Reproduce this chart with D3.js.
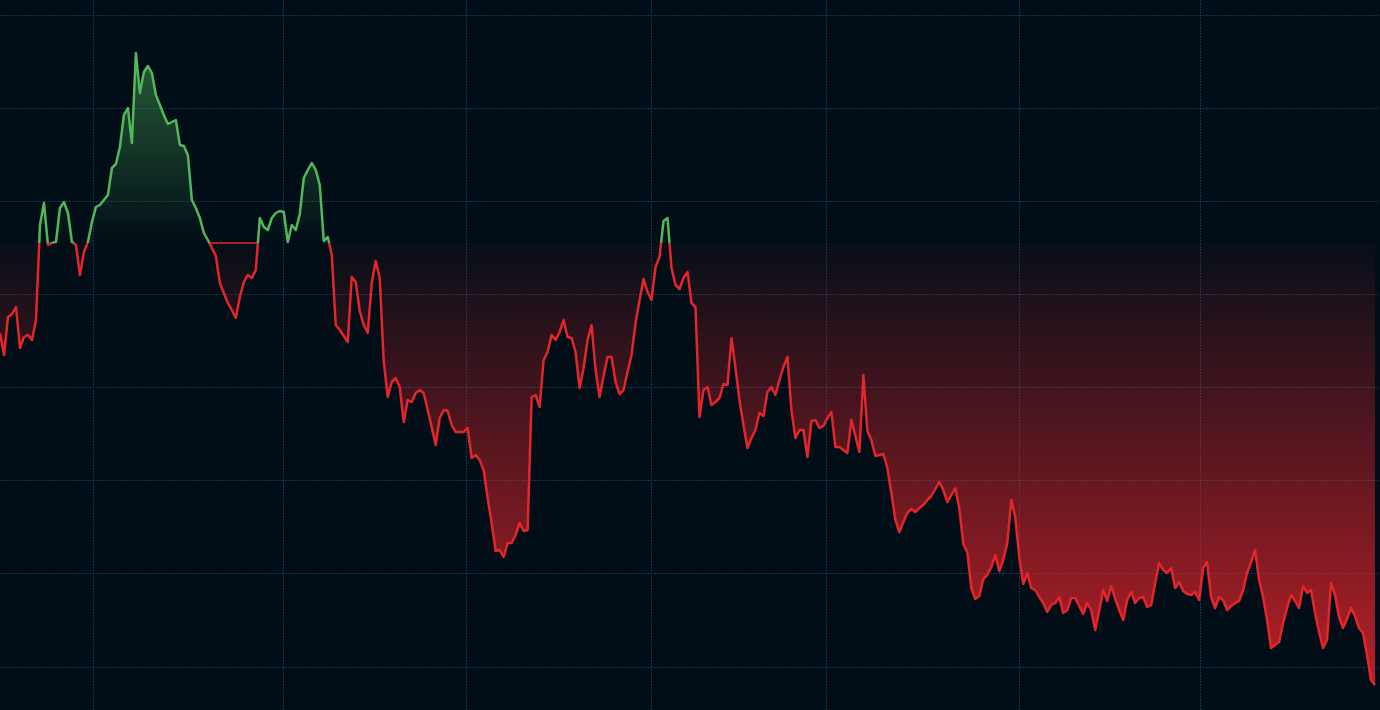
<!doctype html>
<html>
<head>
<meta charset="utf-8">
<script src="https://cdn.jsdelivr.net/npm/d3@7"></script>
<style>
  html, body { margin: 0; padding: 0; background: #020e17; overflow: hidden; }
  .chart { display: block; }
</style>
</head>
<body>
<svg class="chart"></svg>
<script>

  // price series, one value per bar
  const prices = [
    367, 345, 383, 386, 393, 352, 363, 365, 360, 380,
    475, 497, 455, 457, 458, 492, 498, 487, 458, 455,
    425, 448, 458, 478, 493, 495, 500, 505, 532, 536,
    553, 585, 592, 557, 647, 607, 628, 634, 627, 605,
    595, 585, 576, 578, 580, 555, 554, 545, 500, 492,
    482, 467, 460, 452, 444, 417, 407, 397,
    390, 382, 403, 418, 425, 422, 430, 482, 473, 470,
    482, 487, 489, 488, 458, 475, 470, 486, 522, 530,
    537, 530, 515, 459, 463, 445, 375, 370, 364, 358,
    423, 418, 389, 375, 367, 417, 439, 422, 339, 303,
    318, 322, 313, 278, 300, 298, 307, 310, 307, 290,
    273, 255, 282, 290, 289, 275, 268,
    268, 268, 272, 242, 245, 240, 230, 202, 177, 149,
    150, 143, 157, 157, 165, 177, 169, 170, 303, 305,
    293, 340, 348, 365, 360, 368, 380, 363, 362, 348,
    312, 332, 360, 375, 330, 303, 324, 343, 343, 318,
    306, 310, 328, 345, 377, 400, 421, 408, 400, 433,
    443, 479, 482, 432, 415, 411, 422, 428, 397, 393,
    283,
    310, 313, 295, 298, 302, 316, 315, 362, 332, 300,
    275, 252, 262, 270, 287, 284, 308, 313, 305, 320,
    333, 343, 290, 262, 270, 270, 243, 279, 280, 272,
    274, 282, 288, 253, 253, 250, 247, 280, 264, 248,
    325, 269, 260, 244, 245, 246, 232, 207, 180, 168,
    178, 187, 191, 188, 192, 195, 200,
    204, 211, 218, 210, 198, 205, 212, 192, 156, 148,
    112, 101, 104, 121, 125, 133, 145, 129, 140, 157,
    200, 183, 143, 116, 127, 112, 110, 103, 97, 88,
    95, 97, 103, 87, 90, 102, 102, 94, 86, 97,
    90, 70, 89, 110, 99, 114, 101, 90, 80, 100,
    108, 97, 102, 103, 93,
    95, 117, 137, 130, 127, 132, 112, 118, 109, 106,
    105, 108, 100, 132, 138, 103, 92, 103, 100, 90,
    94, 97, 99, 110, 127, 138, 150, 120, 103, 80,
    52, 55, 58, 77, 92, 105, 99, 92, 114, 107,
    110, 87, 68, 52, 60, 117, 105, 83, 72, 81,
    92, 84, 72, 67, 45, 20, 15
  ]

  const baseValue = 457

  // grid positions: price levels and bar indexes
  const gridPrices = [33.5, 126.6, 219.7, 312.8, 405.9, 499, 592.1, 685.2]
  const gridBars = [23.25, 70.7, 116.7, 162.75, 206.6, 255, 300.2]

  // stretch where the lower line also runs along the base level
  const flatSegments = [[52.6, 64.8]]

  const width = 1380,
        height = 710

  const upColor = "#52b75c",
        downColor = "#e3262c",
        gridColor = "#114763",
        bgColor = "#020e17"

  const xScale = d3.scaleLinear()
                   .domain([0, prices.length - 1])
                   .range([0, 1375])

  const yScale = d3.scaleLinear()
                   .domain([-10, 700])
                   .range([710, 0])

  const yBase = yScale(baseValue)

  let svg = d3.select(".chart")
              .attr("width", width)
              .attr("height", height)
              .style("background", bgColor)

  let defs = svg.append("defs")

  let upGrad = defs.append("linearGradient")
      .attr("id", "up-fill")
      .attr("gradientUnits", "userSpaceOnUse")
      .attr("x1", 0).attr("x2", 0)
      .attr("y1", 0).attr("y2", yBase)
  upGrad.append("stop").attr("offset", 0).attr("stop-color", "rgba(72,170,85,0.65)")
  upGrad.append("stop").attr("offset", 1).attr("stop-color", "rgba(72,170,85,0)")

  let downGrad = defs.append("linearGradient")
      .attr("id", "down-fill")
      .attr("gradientUnits", "userSpaceOnUse")
      .attr("x1", 0).attr("x2", 0)
      .attr("y1", yBase).attr("y2", height)
  downGrad.append("stop").attr("offset", 0).attr("stop-color", "rgba(228,36,44,0.02)")
  downGrad.append("stop").attr("offset", 1).attr("stop-color", "rgba(228,36,44,0.85)")

  defs.append("clipPath").attr("id", "clip-up")
    .append("rect")
      .attr("x", 0).attr("y", 0)
      .attr("width", width).attr("height", yBase)

  defs.append("clipPath").attr("id", "clip-down")
    .append("rect")
      .attr("x", 0).attr("y", yBase)
      .attr("width", width).attr("height", height - yBase)

  // grid
  let grid = svg.append("g").attr("class", "grid")

  grid.selectAll(".h-line")
    .data(gridPrices)
    .enter().append("line")
      .attr("class", "h-line")
      .attr("x1", 0).attr("x2", width)
      .attr("y1", d => Math.round(yScale(d)) + 0.5)
      .attr("y2", d => Math.round(yScale(d)) + 0.5)

  grid.selectAll(".v-line")
    .data(gridBars)
    .enter().append("line")
      .attr("class", "v-line")
      .attr("y1", 0).attr("y2", height)
      .attr("x1", d => Math.round(xScale(d)) + 0.5)
      .attr("x2", d => Math.round(xScale(d)) + 0.5)

  grid.selectAll("line")
    .attr("stroke", gridColor)
    .attr("stroke-width", 1)
    .attr("stroke-dasharray", "1.5,1.5")

  // fills
  const area = d3.area()
                 .x((d, i) => xScale(i))
                 .y0(yBase)
                 .y1(d => yScale(d))

  svg.append("path")
    .datum(prices)
    .attr("clip-path", "url(#clip-up)")
    .attr("fill", "url(#up-fill)")
    .attr("d", area)

  svg.append("path")
    .datum(prices)
    .attr("clip-path", "url(#clip-down)")
    .attr("fill", "url(#down-fill)")
    .attr("d", area)

  // lines
  const line = d3.line()
                 .x((d, i) => xScale(i))
                 .y(d => yScale(d))

  svg.selectAll(".flat")
    .data(flatSegments)
    .enter().append("line")
      .attr("class", "flat")
      .attr("x1", d => xScale(d[0]))
      .attr("x2", d => xScale(d[1]))
      .attr("y1", yBase)
      .attr("y2", yBase)
      .attr("stroke", downColor)
      .attr("stroke-width", 1.5)

  svg.append("path")
    .datum(prices)
    .attr("clip-path", "url(#clip-down)")
    .attr("fill", "none")
    .attr("stroke", downColor)
    .attr("stroke-width", 2.5)
    .attr("stroke-linejoin", "round")
    .attr("d", line)

  svg.append("path")
    .datum(prices)
    .attr("clip-path", "url(#clip-up)")
    .attr("fill", "none")
    .attr("stroke", upColor)
    .attr("stroke-width", 2.5)
    .attr("stroke-linejoin", "round")
    .attr("d", line)

</script>
</body>
</html>
